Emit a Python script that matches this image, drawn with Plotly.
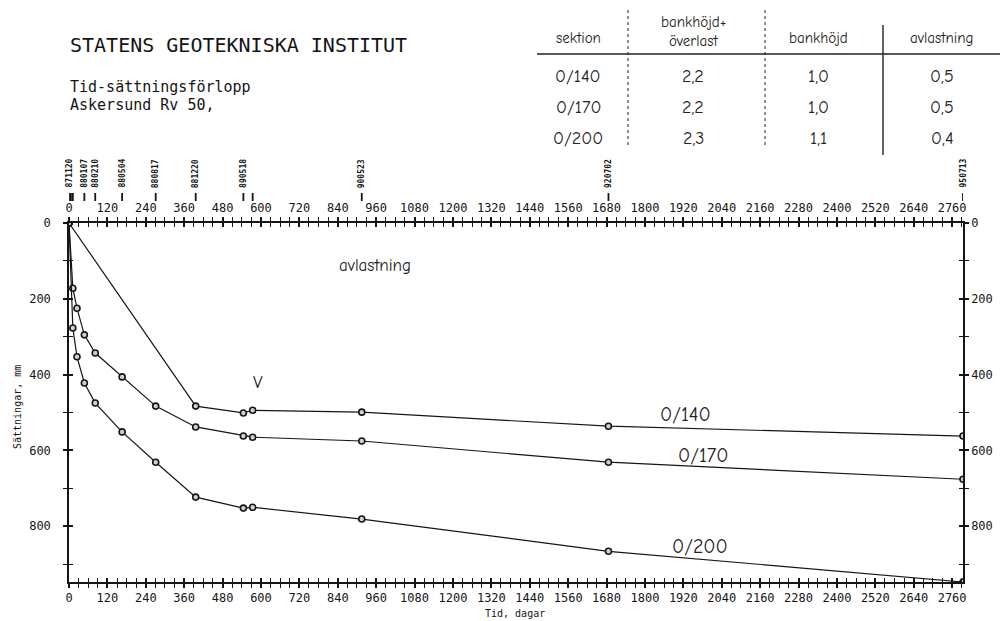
import plotly.graph_objects as go

# ---------------- data ----------------
days = [0, 12, 25, 48, 82, 166, 271, 396, 545, 574, 915, 1686, 2794]
s140_days = [0, 396, 545, 574, 915, 1686, 2794]
s140_mm = [0, 483, 501, 494, 499, 536, 562]
s170_mm = [0, 172, 225, 295, 343, 406, 483, 538, 562, 565, 575, 631, 676]
s200_mm = [0, 277, 353, 422, 475, 551, 631, 723, 752, 750, 781, 866, 947]

date_days = [0, 48, 82, 166, 271, 396, 545, 915, 1686, 2794]
date_labels = ["871120", "880107", "880210", "880504", "880817", "881220",
               "890518", "900523", "920702", "950713"]
date_tick_days = [0, 6, 12, 48, 82, 166, 271, 396, 545, 574, 915, 1686, 2794]

x_ticks = list(range(0, 2761, 120))
y_ticks = [0, 200, 400, 600, 800]

table_header = ["sektion", "bankhöjd+", "bankhöjd", "avlastning"]
table_header2 = "överlast"
table_rows = [["0/140", "2,2", "1,0", "0,5"],
              ["0/170", "2,2", "1,0", "0,5"],
              ["0/200", "2,3", "1,1", "0,4"]]

X_MAX = 2794
Y_MAX = 947

W, H = 1006, 621
L, R, T, B = 69, 43, 223, 39
PW, PH = W - L - R, H - T - B

mono = "DejaVu Sans Mono"
hand = "Comic Neue, Noto Sans, sans-serif"
ink = "#151515"


def px(xp, yp):
    """pixel position in the picture -> paper coordinates (plot area)"""
    return dict(x=(xp - L) / PW, y=(H - B - yp) / PH, xref="paper", yref="paper")


def note(xp, yp, text, font, xanchor="center", angle=0):
    fig.add_annotation(**px(xp, yp), text=text, showarrow=False,
                       xanchor=xanchor, yanchor="middle", textangle=angle,
                       font=font)


fig = go.Figure()

line_style = dict(color=ink, width=1.2)
marker_style = dict(symbol="circle", size=6, color="#d0d0d0",
                    line=dict(color=ink, width=1.6))

fig.add_trace(go.Scatter(x=s140_days, y=s140_mm, mode="lines+markers",
                         line=line_style, marker=marker_style, showlegend=False))
fig.add_trace(go.Scatter(x=days, y=s170_mm, mode="lines+markers",
                         line=line_style, marker=marker_style, showlegend=False))
fig.add_trace(go.Scatter(x=days, y=s200_mm, mode="lines+markers",
                         line=line_style, marker=marker_style, showlegend=False))
# invisible traces to activate the extra axes
for xa, ya in [("x2", "y2"), ("x3", "y3"), ("x4", "y4")]:
    fig.add_trace(go.Scatter(x=[0, X_MAX], y=[0, Y_MAX], xaxis=xa, yaxis=ya,
                             mode="markers", marker=dict(opacity=0),
                             showlegend=False, hoverinfo="skip"))

tickfont = dict(family=mono, size=12, color=ink)
base = dict(showgrid=False, zeroline=False, showline=True,
            linecolor=ink, linewidth=1.5, tickcolor=ink, ticklen=4, tickwidth=1.5)
xminor_out = dict(dtick=30, ticks="outside", ticklen=4, tickcolor=ink, tickwidth=1.2)
xminor_in = dict(dtick=30, ticks="inside", ticklen=4, tickcolor=ink, tickwidth=1.2)
yminor_out = dict(dtick=100, ticks="outside", ticklen=4, tickcolor=ink, tickwidth=1.2)
yminor_in = dict(dtick=100, ticks="inside", ticklen=4, tickcolor=ink, tickwidth=1.2)

fig.update_layout(
    width=W, height=H,
    margin=dict(l=L, r=R, t=T, b=B),
    paper_bgcolor="white", plot_bgcolor="white",
    xaxis=dict(range=[0, X_MAX], tickvals=x_ticks, ticks="outside",
               minor=xminor_out, tickfont=tickfont, **base),
    xaxis2=dict(range=[0, X_MAX], tickvals=x_ticks, ticks="outside",
                overlaying="x", side="top", anchor="y",
                minor=xminor_out, tickfont=tickfont, **base),
    xaxis3=dict(range=[0, X_MAX], tickvals=x_ticks, ticks="inside",
                overlaying="x", side="bottom", anchor="y",
                showticklabels=False, minor=xminor_in, **base),
    xaxis4=dict(range=[0, X_MAX], tickvals=x_ticks, ticks="inside",
                overlaying="x", side="top", anchor="y",
                showticklabels=False, minor=xminor_in, **base),
    yaxis=dict(range=[Y_MAX, 0], tickvals=y_ticks, ticks="outside",
               minor=yminor_out, tickfont=tickfont, ticklabelstandoff=10,
               **base),
    yaxis2=dict(range=[Y_MAX, 0], tickvals=y_ticks, ticks="outside",
                overlaying="y", side="right", anchor="x",
                minor=yminor_out, tickfont=tickfont, **base),
    yaxis3=dict(range=[Y_MAX, 0], tickvals=y_ticks, ticks="inside",
                overlaying="y", side="left", anchor="x",
                showticklabels=False, minor=yminor_in, **base),
    yaxis4=dict(range=[Y_MAX, 0], tickvals=y_ticks, ticks="inside",
                overlaying="y", side="right", anchor="x",
                showticklabels=False, minor=yminor_in, **base),
)

# date markers along the top
for d in date_tick_days:
    fig.add_shape(type="line", xref="x", yref="paper", x0=d, x1=d,
                  y0=(H - B - 201) / PH, y1=(H - B - 193) / PH,
                  line=dict(color=ink, width=1.8))
for d, lab in zip(date_days, date_labels):
    fig.add_annotation(x=d, y=(H - B - 190) / PH, xref="x", yref="paper",
                       text="<b>" + lab + "</b>", showarrow=False, textangle=-90,
                       xanchor="center", yanchor="bottom",
                       font=dict(family=mono, size=8, color=ink))

# axis titles
note(515, 613, "Tid, dagar", dict(family=mono, size=10, color=ink))
note(17, 407, "Sättningar, mm", dict(family=mono, size=10, color=ink), angle=-90)

# Titles
note(68, 45, "STATENS GEOTEKNISKA INSTITUT", dict(family=mono, size=20, color=ink),
     xanchor="left")
note(68, 87, "Tid-sättningsförlopp", dict(family=mono, size=15, color=ink),
     xanchor="left")
note(68, 105, "Askersund Rv 50,", dict(family=mono, size=15, color=ink),
     xanchor="left")

# handwritten table
hfont_h = dict(family=hand, size=15, color="#222")
hfont_v = dict(family=hand, size=18, color="#222")
col_x = [578, 693, 818, 942]
row_y = [76, 107, 138]
for i, (cx, h) in enumerate(zip(col_x, table_header)):
    note(cx, 22 if i == 1 else 38, h, hfont_h)
note(col_x[1], 41, table_header2, hfont_h)
for ry, row in zip(row_y, table_rows):
    for cx, v in zip(col_x, row):
        note(cx, ry, v, hfont_v)


def pline(x0, y0, x1, y1, dash="solid", w=1.4):
    a, b = px(x0, y0), px(x1, y1)
    fig.add_shape(type="line", xref="paper", yref="paper",
                  x0=a["x"], x1=b["x"], y0=a["y"], y1=b["y"],
                  line=dict(color="#222", width=w, dash=dash))


pline(537, 54, 1000, 54)
pline(628, 10, 628, 145, dash="dot", w=1)
pline(765, 10, 765, 145, dash="dot", w=1)
pline(883, 25, 883, 155)

# handwritten labels on chart
for txt, (xp, yp), sz in [("0/140", (685, 414), 20), ("0/170", (703, 455), 20),
                          ("0/200", (700, 546), 20), ("avlastning", (375, 265), 17),
                          ("V", (258, 382), 18)]:
    note(xp, yp, txt, dict(family=hand, size=sz, color="#222"))

fig.write_html("out.html")
